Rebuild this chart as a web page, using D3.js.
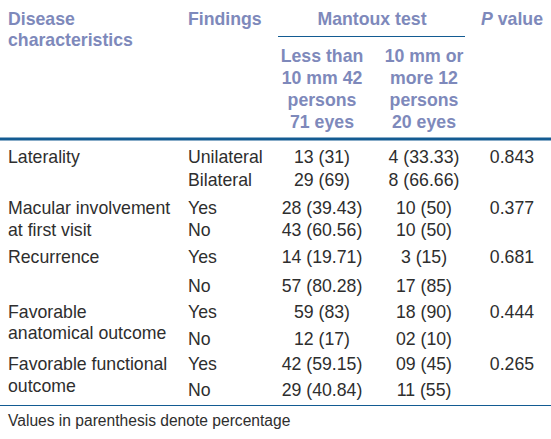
<!DOCTYPE html>
<html>
<head>
<meta charset="utf-8">
<script src="https://cdn.jsdelivr.net/npm/d3@7"></script>
<style>
  html, body { margin: 0; padding: 0; background: #fff; }
  svg { display: block; }
</style>
</head>
<body>
<svg id="chart" width="551" height="439"></svg>
<script>
// ---- data ----
const headerColumns = ["Disease characteristics", "Findings", "Mantoux test", "P value"];
const groupHeaders = [["Less than", "10 mm 42", "persons", "71 eyes"], ["10 mm or", "more 12", "persons", "20 eyes"]];
const characteristics = [["Laterality"], ["Macular involvement", "at first visit"], ["Recurrence"], ["Favorable", "anatomical outcome"], ["Favorable functional", "outcome"]];
const findings = ["Unilateral", "Bilateral", "Yes", "No", "Yes", "No", "Yes", "No", "Yes", "No"];
const lessThan10 = ["13 (31)", "29 (69)", "28 (39.43)", "43 (60.56)", "14 (19.71)", "57 (80.28)", "59 (83)", "12 (17)", "42 (59.15)", "29 (40.84)"];
const tenOrMore = ["4 (33.33)", "8 (66.66)", "10 (50)", "10 (50)", "3 (15)", "17 (85)", "18 (90)", "02 (10)", "09 (45)", "11 (55)"];
const pValues = ["0.843", "0.377", "0.681", "0.444", "0.265"];
const footnote = "Values in parenthesis denote percentage";

// ---- layout ----
const svg = d3.select("#chart");
const W = 551, H = 439;
const headColor = "#7e89bb";
const textColor = "#2e2e2e";
const lineColor = "#135b92";
const fs = 17.7;
const font = "'Liberation Sans', Arial, Helvetica, sans-serif";

svg.append("rect").attr("width", W).attr("height", H).attr("fill", "#fff");

// column scale
const colX = d3.scaleOrdinal()
  .domain(["char", "find", "c1", "c2", "p"])
  .range([8, 188, 322, 424, 512]);

// row baselines (sub-rows)
const subRowY = d3.scaleOrdinal()
  .domain(d3.range(10))
  .range([163, 186, 214, 236, 263, 292, 318, 345, 370, 396]);
const charY = [[163], [214, 236], [263], [318, 339], [370, 392]];

const g = svg.append("g").attr("font-family", font);

// header
const hdr = g.append("g").attr("fill", headColor).attr("font-weight", "bold").attr("font-size", fs);
hdr.append("text").attr("x", colX("char")).attr("y", 25).text("Disease");
hdr.append("text").attr("x", colX("char")).attr("y", 46).text("characteristics");
hdr.append("text").attr("x", colX("find")).attr("y", 25).text(headerColumns[1]);
hdr.append("text").attr("x", 372).attr("y", 25).attr("text-anchor", "middle").text(headerColumns[2]);
const pt = hdr.append("text").attr("x", colX("p")).attr("y", 25).attr("text-anchor", "middle");
pt.append("tspan").attr("font-style", "italic").text("P");
pt.append("tspan").text(" value");

const subY = d3.scaleOrdinal().domain(d3.range(4)).range([62, 84, 106, 128]);
groupHeaders.forEach((lines, i) => {
  hdr.selectAll(null).data(lines).join("text")
    .attr("x", colX(i === 0 ? "c1" : "c2"))
    .attr("y", (d, j) => subY(j))
    .attr("text-anchor", "middle")
    .text(d => d);
});

// rules
g.append("line").attr("x1", 278).attr("x2", 465).attr("y1", 36.5).attr("y2", 36.5)
  .attr("stroke", lineColor).attr("stroke-width", 1.2);
g.append("line").attr("x1", 0).attr("x2", W).attr("y1", 139).attr("y2", 139)
  .attr("stroke", lineColor).attr("stroke-width", 3);
g.append("line").attr("x1", 0).attr("x2", W).attr("y1", 405.5).attr("y2", 405.5)
  .attr("stroke", lineColor).attr("stroke-width", 1.2);

// body
const body = g.append("g").attr("fill", textColor).attr("font-size", fs);
characteristics.forEach((lines, i) => {
  body.selectAll(null).data(lines).join("text")
    .attr("x", colX("char"))
    .attr("y", (d, j) => charY[i][j])
    .text(d => d);
});
body.selectAll("text.find").data(findings).join("text").attr("class", "find")
  .attr("x", colX("find")).attr("y", (d, i) => subRowY(i)).text(d => d);
body.selectAll("text.c1").data(lessThan10).join("text").attr("class", "c1")
  .attr("x", colX("c1")).attr("y", (d, i) => subRowY(i)).attr("text-anchor", "middle").text(d => d);
body.selectAll("text.c2").data(tenOrMore).join("text").attr("class", "c2")
  .attr("x", colX("c2")).attr("y", (d, i) => subRowY(i)).attr("text-anchor", "middle").text(d => d);
body.selectAll("text.p").data(pValues).join("text").attr("class", "p")
  .attr("x", colX("p")).attr("y", (d, i) => subRowY(i * 2)).attr("text-anchor", "middle").text(d => d);

// footnote
g.append("text").attr("x", 8).attr("y", 426).attr("fill", textColor)
  .attr("font-size", 15.6).text(footnote);
</script>
</body>
</html>
